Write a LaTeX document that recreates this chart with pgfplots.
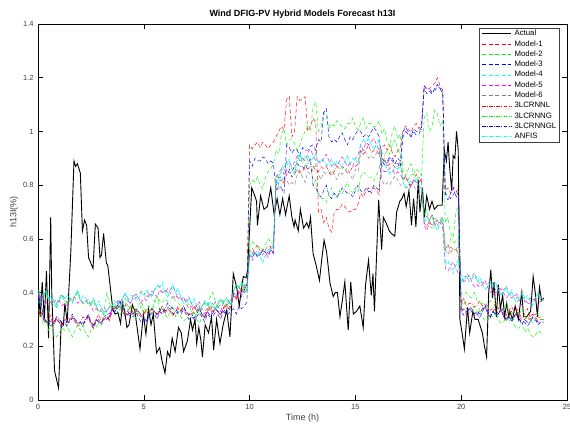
\documentclass[border=0pt]{standalone}
\usepackage{pgfplots}
\pgfplotsset{compat=1.18}
\usepackage{pgfplotstable}
\usepackage{fontspec}
\setmainfont{Liberation Sans}

\definecolor{mred}{rgb}{1,0,0}
\definecolor{mgreen}{rgb}{0,1,0}
\definecolor{mblue}{rgb}{0,0,1}
\definecolor{mcyan}{rgb}{0,1,1}
\definecolor{mmag}{rgb}{1,0,1}
\definecolor{mgray}{rgb}{0.5,0.5,0.5}

\pgfplotstableread{
t v
0.0 0.45
0.1 0.31
0.2 0.44
0.3 0.30
0.4 0.48
0.5 0.23
0.6 0.68
0.65 0.40
0.78 0.11
0.97 0.045
1.1 0.29
1.2 0.28
1.27 0.36
1.38 0.29
1.55 0.55
1.70 0.89
1.78 0.87
1.86 0.88
2.0 0.845
2.1 0.63
2.2 0.67
2.3 0.65
2.39 0.53
2.6 0.49
2.71 0.655
2.84 0.64
2.93 0.53
3.0 0.54
3.1 0.62
3.23 0.51
3.3 0.50
3.54 0.335
3.65 0.32
3.78 0.325
3.9 0.285
4.0 0.36
4.1 0.33
4.2 0.27
4.3 0.28
4.46 0.355
4.58 0.33
4.82 0.19
4.98 0.32
5.1 0.245
5.22 0.34
5.34 0.28
5.45 0.32
5.6 0.175
5.75 0.195
5.85 0.15
6.0 0.10
6.12 0.18
6.23 0.16
6.34 0.23
6.48 0.18
6.64 0.27
6.77 0.25
6.88 0.18
7.06 0.22
7.21 0.30
7.3 0.26
7.42 0.30
7.5 0.21
7.6 0.27
7.7 0.22
7.77 0.16
7.9 0.28
8.06 0.25
8.2 0.31
8.3 0.186
8.44 0.30
8.6 0.21
8.75 0.28
8.92 0.335
9.07 0.235
9.23 0.47
9.39 0.42
9.51 0.35
9.7 0.46
9.83 0.455
9.9 0.48
10.1 0.79
10.2 0.77
10.33 0.74
10.37 0.65
10.52 0.76
10.68 0.71
10.84 0.72
11.0 0.79
11.16 0.69
11.3 0.75
11.43 0.69
11.56 0.75
11.7 0.69
11.87 0.76
12.0 0.68
12.1 0.645
12.15 0.67
12.3 0.63
12.4 0.71
12.55 0.64
12.7 0.66
12.8 0.64
12.88 0.68
13.0 0.545
13.15 0.50
13.3 0.445
13.42 0.53
13.52 0.595
13.64 0.55
13.8 0.435
13.95 0.385
14.05 0.40
14.15 0.40
14.27 0.31
14.38 0.37
14.5 0.44
14.66 0.26
14.78 0.44
14.9 0.32
15.05 0.33
15.21 0.35
15.37 0.27
15.48 0.43
15.62 0.52
15.75 0.39
15.83 0.47
15.9 0.33
16.1 0.745
16.24 0.56
16.32 0.68
16.45 0.66
16.6 0.63
16.7 0.62
16.86 0.61
16.95 0.70
17.1 0.74
17.2 0.75
17.3 0.77
17.4 0.72
17.53 0.78
17.65 0.65
17.75 0.75
17.86 0.645
17.97 0.82
18.05 0.70
18.17 0.79
18.26 0.68
18.37 0.76
18.5 0.71
18.62 0.74
18.73 0.71
18.9 0.725
19.1 0.725
19.2 0.93
19.3 0.89
19.38 0.96
19.45 0.87
19.55 0.78
19.62 0.91
19.7 0.90
19.78 1.0
19.86 0.93
19.94 0.30
20.07 0.235
20.15 0.19
20.3 0.345
20.4 0.25
20.55 0.33
20.65 0.30
20.8 0.30
21.0 0.25
21.1 0.20
21.2 0.16
21.3 0.40
21.4 0.485
21.48 0.38
21.55 0.44
21.66 0.31
21.75 0.43
21.85 0.34
21.96 0.39
22.05 0.31
22.15 0.36
22.25 0.31
22.3 0.33
22.42 0.30
22.55 0.35
22.7 0.30
22.86 0.40
22.95 0.31
23.1 0.31
23.28 0.33
23.4 0.46
23.5 0.40
23.6 0.31
23.7 0.42
23.8 0.37
23.9 0.38
}\actual

\pgfplotstableread{
t M1 M2 M3 M4 M5 M6 L G GL AN
0.0 0.31 0.34 0.36 0.40 0.38 0.39 0.33 0.37 0.37 0.41
0.125 0.33 0.325 0.375 0.38 0.395 0.38 0.34 0.355 0.39 0.395
0.25 0.30 0.28 0.31 0.39 0.38 0.39 0.31 0.38 0.30 0.39
0.375 0.285 0.30 0.29 0.405 0.36 0.405 0.295 0.40 0.29 0.41
0.5 0.29 0.26 0.30 0.37 0.37 0.38 0.30 0.37 0.29 0.38
0.625 0.30 0.28 0.29 0.39 0.36 0.36 0.32 0.36 0.275 0.39
0.75 0.28 0.25 0.29 0.36 0.36 0.37 0.29 0.36 0.29 0.37
0.875 0.30 0.235 0.305 0.34 0.375 0.36 0.30 0.345 0.31 0.355
1.0 0.29 0.25 0.29 0.37 0.37 0.38 0.30 0.37 0.30 0.37
1.125 0.275 0.27 0.27 0.385 0.35 0.395 0.285 0.39 0.29 0.39
1.25 0.28 0.26 0.30 0.37 0.36 0.38 0.29 0.37 0.29 0.38
1.375 0.29 0.28 0.29 0.39 0.35 0.36 0.31 0.36 0.275 0.39
1.5 0.29 0.25 0.29 0.38 0.37 0.38 0.30 0.38 0.30 0.38
1.625 0.31 0.235 0.305 0.36 0.385 0.37 0.31 0.365 0.32 0.365
1.75 0.29 0.26 0.30 0.39 0.38 0.39 0.30 0.38 0.30 0.39
1.875 0.275 0.28 0.28 0.405 0.36 0.405 0.285 0.40 0.29 0.41
2.0 0.28 0.26 0.29 0.37 0.37 0.38 0.29 0.37 0.29 0.37
2.125 0.29 0.28 0.28 0.39 0.36 0.36 0.31 0.36 0.275 0.38
2.25 0.29 0.25 0.30 0.38 0.36 0.37 0.30 0.37 0.30 0.38
2.375 0.31 0.235 0.315 0.36 0.375 0.36 0.31 0.355 0.32 0.365
2.5 0.28 0.26 0.29 0.36 0.35 0.36 0.29 0.35 0.29 0.36
2.625 0.265 0.28 0.27 0.375 0.33 0.375 0.275 0.37 0.28 0.38
2.75 0.29 0.27 0.30 0.35 0.34 0.35 0.30 0.34 0.30 0.35
2.875 0.30 0.29 0.29 0.37 0.33 0.33 0.32 0.33 0.285 0.36
3.0 0.28 0.28 0.29 0.34 0.33 0.34 0.29 0.33 0.29 0.34
3.125 0.30 0.33 0.305 0.32 0.345 0.33 0.30 0.315 0.31 0.325
3.25 0.31 0.40 0.30 0.33 0.33 0.33 0.31 0.33 0.32 0.33
3.375 0.295 0.36 0.31 0.345 0.32 0.345 0.30 0.35 0.31 0.35
3.5 0.33 0.34 0.34 0.35 0.35 0.35 0.33 0.35 0.34 0.35
3.625 0.34 0.36 0.33 0.37 0.34 0.33 0.35 0.34 0.325 0.36
3.75 0.34 0.33 0.35 0.36 0.36 0.37 0.34 0.35 0.35 0.36
3.875 0.36 0.315 0.365 0.34 0.375 0.36 0.35 0.335 0.37 0.345
4.0 0.33 0.34 0.33 0.38 0.37 0.38 0.33 0.36 0.34 0.38
4.125 0.315 0.36 0.31 0.395 0.35 0.395 0.315 0.38 0.33 0.40
4.25 0.32 0.33 0.32 0.37 0.37 0.38 0.33 0.35 0.33 0.37
4.375 0.33 0.35 0.31 0.39 0.36 0.36 0.35 0.34 0.315 0.38
4.5 0.32 0.32 0.31 0.39 0.38 0.39 0.32 0.34 0.32 0.39
4.625 0.34 0.305 0.325 0.37 0.395 0.38 0.33 0.325 0.34 0.375
4.75 0.33 0.33 0.31 0.38 0.38 0.39 0.33 0.35 0.32 0.38
4.875 0.315 0.35 0.29 0.395 0.36 0.405 0.315 0.37 0.31 0.40
5.0 0.32 0.32 0.30 0.39 0.38 0.40 0.32 0.34 0.31 0.39
5.125 0.33 0.34 0.29 0.41 0.37 0.38 0.34 0.33 0.295 0.40
5.25 0.32 0.33 0.31 0.40 0.39 0.40 0.33 0.35 0.32 0.40
5.375 0.34 0.315 0.325 0.38 0.405 0.39 0.34 0.335 0.34 0.385
5.5 0.33 0.37 0.32 0.41 0.40 0.41 0.33 0.36 0.33 0.41
5.625 0.315 0.39 0.30 0.425 0.38 0.425 0.315 0.38 0.32 0.43
5.75 0.33 0.33 0.33 0.42 0.41 0.42 0.33 0.37 0.34 0.42
5.875 0.34 0.35 0.32 0.44 0.40 0.40 0.35 0.36 0.325 0.43
6.0 0.32 0.32 0.33 0.40 0.40 0.41 0.33 0.38 0.34 0.40
6.125 0.34 0.305 0.345 0.38 0.415 0.40 0.34 0.365 0.36 0.385
6.25 0.33 0.33 0.34 0.41 0.40 0.41 0.33 0.37 0.35 0.41
6.375 0.315 0.35 0.32 0.425 0.38 0.425 0.315 0.39 0.34 0.43
6.5 0.33 0.31 0.33 0.40 0.39 0.40 0.33 0.37 0.34 0.40
6.625 0.34 0.33 0.32 0.42 0.38 0.38 0.35 0.36 0.325 0.41
6.75 0.33 0.31 0.32 0.38 0.37 0.38 0.33 0.35 0.33 0.38
6.875 0.35 0.295 0.335 0.36 0.385 0.37 0.34 0.335 0.35 0.365
7.0 0.33 0.30 0.32 0.36 0.36 0.37 0.33 0.34 0.33 0.36
7.125 0.315 0.32 0.30 0.375 0.34 0.385 0.315 0.36 0.32 0.38
7.25 0.32 0.31 0.31 0.36 0.35 0.36 0.33 0.33 0.32 0.36
7.375 0.33 0.33 0.30 0.38 0.34 0.34 0.35 0.32 0.305 0.37
7.5 0.33 0.30 0.31 0.35 0.35 0.36 0.33 0.33 0.32 0.35
7.625 0.35 0.285 0.325 0.33 0.365 0.35 0.34 0.315 0.34 0.335
7.75 0.32 0.31 0.31 0.35 0.34 0.35 0.32 0.34 0.32 0.35
7.875 0.305 0.33 0.29 0.365 0.32 0.365 0.305 0.36 0.31 0.37
8.0 0.33 0.34 0.32 0.35 0.34 0.36 0.33 0.35 0.33 0.35
8.125 0.34 0.38 0.31 0.37 0.33 0.34 0.35 0.34 0.315 0.36
8.25 0.32 0.40 0.31 0.35 0.35 0.35 0.33 0.36 0.32 0.35
8.375 0.34 0.37 0.325 0.33 0.365 0.34 0.34 0.345 0.34 0.335
8.5 0.33 0.34 0.32 0.36 0.35 0.36 0.33 0.35 0.33 0.36
8.625 0.315 0.36 0.30 0.375 0.33 0.375 0.315 0.37 0.32 0.38
8.75 0.34 0.36 0.33 0.36 0.36 0.37 0.34 0.36 0.34 0.36
8.875 0.35 0.38 0.32 0.38 0.35 0.35 0.36 0.35 0.325 0.37
9.0 0.34 0.37 0.32 0.37 0.36 0.37 0.34 0.37 0.33 0.37
9.125 0.36 0.355 0.335 0.35 0.375 0.36 0.35 0.355 0.35 0.355
9.25 0.39 0.41 0.34 0.41 0.40 0.41 0.39 0.41 0.40 0.41
9.375 0.375 0.43 0.32 0.425 0.38 0.425 0.375 0.43 0.39 0.43
9.5 0.40 0.42 0.35 0.42 0.41 0.42 0.40 0.42 0.40 0.42
9.625 0.41 0.44 0.34 0.44 0.40 0.40 0.42 0.41 0.385 0.43
9.75 0.41 0.42 0.35 0.42 0.42 0.43 0.40 0.42 0.41 0.42
9.875 0.43 0.405 0.365 0.40 0.435 0.42 0.41 0.405 0.43 0.405
10.0 0.95 0.80 0.89 0.53 0.54 0.55 0.56 0.57 0.54 0.53
10.125 0.935 0.82 0.87 0.545 0.52 0.565 0.545 0.59 0.53 0.55
10.25 0.95 0.81 0.90 0.54 0.55 0.55 0.56 0.58 0.55 0.54
10.375 0.96 0.83 0.89 0.56 0.54 0.53 0.58 0.57 0.535 0.55
10.5 0.94 0.80 0.89 0.53 0.54 0.55 0.55 0.57 0.54 0.53
10.625 0.96 0.785 0.905 0.51 0.555 0.54 0.56 0.555 0.56 0.515
10.75 0.95 0.83 0.90 0.54 0.55 0.56 0.56 0.58 0.55 0.54
10.875 0.935 0.85 0.88 0.555 0.53 0.575 0.545 0.60 0.54 0.56
11.0 0.95 0.86 0.89 0.56 0.56 0.57 0.57 0.59 0.56 0.56
11.125 0.96 0.88 0.88 0.58 0.55 0.55 0.59 0.58 0.545 0.57
11.25 0.98 0.93 0.78 0.82 0.83 0.79 0.80 0.84 0.81 0.82
11.375 1.00 0.915 0.795 0.80 0.845 0.78 0.81 0.825 0.83 0.805
11.5 1.02 0.99 0.79 0.85 0.86 0.80 0.82 0.86 0.83 0.85
11.625 1.005 1.01 0.77 0.865 0.84 0.815 0.805 0.88 0.82 0.87
11.75 1.12 0.95 0.95 0.88 0.89 0.82 0.84 0.88 0.86 0.88
11.875 1.13 0.97 0.94 0.90 0.88 0.80 0.86 0.87 0.845 0.89
12.0 0.98 0.97 0.92 0.86 0.87 0.81 0.83 0.86 0.85 0.86
12.125 1.00 0.955 0.935 0.84 0.885 0.80 0.84 0.845 0.87 0.845
12.25 1.13 0.93 0.93 0.90 0.91 0.84 0.86 0.89 0.88 0.90
12.375 1.115 0.95 0.91 0.915 0.89 0.855 0.845 0.91 0.87 0.92
12.5 1.12 0.98 0.94 0.89 0.90 0.83 0.85 0.88 0.87 0.89
12.625 1.13 1.00 0.93 0.91 0.89 0.81 0.87 0.87 0.855 0.90
12.75 1.00 1.02 0.93 0.91 0.92 0.85 0.86 0.90 0.88 0.91
12.875 1.02 1.005 0.945 0.89 0.935 0.84 0.87 0.885 0.90 0.895
13.0 1.05 1.09 0.95 0.90 0.91 0.86 0.87 0.80 0.80 0.90
13.125 1.035 1.11 0.93 0.915 0.89 0.875 0.855 0.82 0.79 0.92
13.25 0.70 1.00 0.97 0.88 0.89 0.84 0.85 0.76 0.77 0.88
13.375 0.71 1.02 0.96 0.90 0.88 0.82 0.87 0.75 0.755 0.89
13.5 0.66 1.07 1.07 0.89 0.90 0.85 0.86 0.75 0.78 0.89
13.625 0.68 1.055 1.085 0.87 0.915 0.84 0.87 0.735 0.80 0.875
13.75 0.64 1.01 0.98 0.88 0.89 0.84 0.85 0.77 0.76 0.88
13.875 0.625 1.03 0.96 0.895 0.87 0.855 0.835 0.79 0.75 0.90
14.0 0.70 1.02 0.97 0.87 0.88 0.84 0.85 0.76 0.77 0.87
14.125 0.71 1.04 0.96 0.89 0.87 0.82 0.87 0.75 0.755 0.88
14.25 0.71 1.03 0.98 0.88 0.89 0.85 0.86 0.78 0.77 0.88
14.375 0.73 1.015 0.995 0.86 0.905 0.84 0.87 0.765 0.79 0.865
14.5 0.72 1.01 0.97 0.89 0.89 0.85 0.86 0.79 0.78 0.89
14.625 0.705 1.03 0.95 0.905 0.87 0.865 0.845 0.81 0.77 0.91
14.75 0.70 1.03 0.98 0.88 0.88 0.84 0.85 0.78 0.77 0.88
14.875 0.71 1.05 0.97 0.90 0.87 0.82 0.87 0.77 0.755 0.89
15.0 0.71 1.02 0.99 0.90 0.90 0.86 0.87 0.79 0.78 0.90
15.125 0.73 1.005 1.005 0.88 0.915 0.85 0.88 0.775 0.80 0.885
15.25 0.77 1.03 1.00 0.95 0.95 0.92 0.93 0.83 0.78 0.95
15.375 0.755 1.05 0.98 0.965 0.93 0.935 0.915 0.85 0.77 0.97
15.5 0.78 1.01 0.99 0.96 0.96 0.92 0.93 0.84 0.79 0.96
15.625 0.79 1.03 0.98 0.98 0.95 0.90 0.95 0.83 0.775 0.97
15.75 0.77 1.03 1.00 0.95 0.96 0.91 0.92 0.83 0.78 0.95
15.875 0.79 1.015 1.015 0.93 0.975 0.90 0.93 0.815 0.80 0.935
16.0 0.78 1.02 1.00 0.95 0.95 0.92 0.93 0.84 0.79 0.95
16.125 0.765 1.04 0.98 0.965 0.93 0.935 0.915 0.86 0.78 0.97
16.25 0.94 0.99 0.90 0.87 0.86 0.82 0.88 0.92 0.89 0.87
16.375 0.95 1.01 0.89 0.89 0.85 0.80 0.90 0.91 0.875 0.88
16.5 0.93 0.96 0.89 0.86 0.85 0.81 0.87 0.93 0.88 0.86
16.625 0.95 0.945 0.905 0.84 0.865 0.80 0.88 0.915 0.90 0.845
16.75 0.92 1.00 0.90 0.85 0.86 0.82 0.88 0.95 0.89 0.85
16.875 0.905 1.02 0.88 0.865 0.84 0.835 0.865 0.97 0.88 0.87
17.0 0.93 0.97 0.90 0.86 0.85 0.82 0.87 0.93 0.88 0.86
17.125 0.94 0.99 0.89 0.88 0.84 0.80 0.89 0.92 0.865 0.87
17.25 1.00 0.85 1.00 0.81 0.82 0.80 0.82 0.83 0.98 0.81
17.375 1.02 0.835 1.015 0.79 0.835 0.79 0.83 0.815 1.00 0.795
17.5 1.01 0.86 1.00 0.80 0.81 0.79 0.81 0.82 0.99 0.80
17.625 0.995 0.88 0.98 0.815 0.79 0.805 0.795 0.84 0.98 0.82
17.75 1.02 0.84 1.01 0.81 0.82 0.80 0.82 0.84 1.00 0.81
17.875 1.03 0.86 1.00 0.83 0.81 0.78 0.84 0.83 0.985 0.82
18.0 1.01 0.85 1.00 0.80 0.81 0.79 0.81 0.83 0.99 0.80
18.125 1.03 0.835 1.015 0.78 0.825 0.78 0.82 0.815 1.01 0.785
18.25 1.17 1.05 1.16 0.66 0.65 0.67 0.66 0.69 1.17 0.66
18.375 1.155 1.07 1.14 0.675 0.63 0.685 0.645 0.71 1.16 0.68
18.5 1.16 1.00 1.15 0.67 0.66 0.67 0.67 0.65 1.16 0.67
18.625 1.17 1.02 1.14 0.69 0.65 0.65 0.69 0.64 1.145 0.68
18.75 1.18 1.08 1.16 0.65 0.65 0.66 0.66 0.68 1.15 0.65
18.875 1.20 1.065 1.175 0.63 0.665 0.65 0.67 0.665 1.17 0.635
19.0 1.17 1.02 1.16 0.66 0.66 0.67 0.67 0.66 1.16 0.66
19.125 1.155 1.04 1.14 0.675 0.64 0.685 0.655 0.68 1.15 0.68
19.25 0.78 0.66 0.77 0.50 0.49 0.56 0.56 0.58 0.76 0.51
19.375 0.79 0.68 0.76 0.52 0.48 0.54 0.58 0.57 0.745 0.52
19.5 0.77 0.62 0.75 0.49 0.50 0.57 0.55 0.60 0.77 0.50
19.625 0.79 0.605 0.765 0.47 0.515 0.56 0.56 0.585 0.79 0.485
19.75 0.79 0.70 0.78 0.51 0.49 0.56 0.56 0.59 0.76 0.50
19.875 0.775 0.72 0.76 0.525 0.47 0.575 0.545 0.61 0.75 0.52
20.0 0.33 0.35 0.34 0.44 0.45 0.46 0.36 0.40 0.33 0.44
20.125 0.34 0.37 0.33 0.46 0.44 0.44 0.38 0.39 0.315 0.45
20.25 0.32 0.34 0.33 0.46 0.45 0.47 0.35 0.40 0.32 0.46
20.375 0.34 0.325 0.345 0.44 0.465 0.46 0.36 0.385 0.34 0.445
20.5 0.33 0.33 0.34 0.45 0.44 0.46 0.36 0.38 0.33 0.45
20.625 0.315 0.35 0.32 0.465 0.42 0.475 0.345 0.40 0.32 0.47
20.75 0.32 0.32 0.33 0.44 0.43 0.45 0.35 0.37 0.32 0.44
20.875 0.33 0.34 0.32 0.46 0.42 0.43 0.37 0.36 0.305 0.45
21.0 0.33 0.31 0.34 0.43 0.43 0.44 0.35 0.36 0.33 0.43
21.125 0.35 0.295 0.355 0.41 0.445 0.43 0.36 0.345 0.35 0.415
21.25 0.32 0.30 0.33 0.42 0.42 0.43 0.35 0.35 0.32 0.42
21.375 0.305 0.32 0.31 0.435 0.40 0.445 0.335 0.37 0.31 0.44
21.5 0.33 0.31 0.33 0.42 0.41 0.43 0.34 0.36 0.33 0.42
21.625 0.34 0.33 0.32 0.44 0.40 0.41 0.36 0.35 0.315 0.43
21.75 0.32 0.30 0.32 0.41 0.40 0.42 0.34 0.35 0.32 0.41
21.875 0.34 0.285 0.335 0.39 0.415 0.41 0.35 0.335 0.34 0.395
22.0 0.31 0.29 0.32 0.40 0.40 0.41 0.33 0.34 0.31 0.40
22.125 0.295 0.31 0.30 0.415 0.38 0.425 0.315 0.36 0.30 0.42
22.25 0.32 0.29 0.31 0.39 0.39 0.40 0.33 0.33 0.31 0.39
22.375 0.33 0.31 0.30 0.41 0.38 0.38 0.35 0.32 0.295 0.40
22.5 0.31 0.28 0.31 0.38 0.38 0.39 0.33 0.33 0.30 0.38
22.625 0.33 0.265 0.325 0.36 0.395 0.38 0.34 0.315 0.32 0.365
22.75 0.31 0.27 0.30 0.38 0.37 0.39 0.32 0.32 0.30 0.38
22.875 0.295 0.29 0.28 0.395 0.35 0.405 0.305 0.34 0.29 0.40
23.0 0.30 0.25 0.30 0.37 0.37 0.38 0.32 0.31 0.29 0.37
23.125 0.31 0.27 0.29 0.39 0.36 0.36 0.34 0.30 0.275 0.38
23.25 0.30 0.25 0.29 0.37 0.36 0.38 0.31 0.30 0.29 0.37
23.375 0.32 0.235 0.305 0.35 0.375 0.37 0.32 0.285 0.31 0.355
23.5 0.31 0.24 0.30 0.38 0.37 0.38 0.32 0.30 0.30 0.38
23.625 0.295 0.26 0.28 0.395 0.35 0.395 0.305 0.32 0.29 0.40
23.75 0.30 0.25 0.29 0.37 0.37 0.38 0.31 0.30 0.29 0.37
23.9 0.30 0.25 0.29 0.37 0.36 0.37 0.31 0.30 0.29 0.37
}\models

\tikzset{
  mdash/.style={dash pattern=on 4pt off 2.5pt, line width=0.45pt},
  mdashdot/.style={dash pattern=on 3.5pt off 1.5pt on 0.6pt off 1.5pt, line width=0.45pt},
}

\begin{document}
\begin{tikzpicture}
\begin{axis}[
  name=ax,
  width=529pt, height=376pt, scale only axis,
  xmin=0, xmax=25, ymin=0, ymax=1.4,
  xtick={0,5,10,15,20,25},
  ytick={0,0.2,0.4,0.6,0.8,1,1.2,1.4},
  tick align=inside,
  major tick length=5pt,
  axis line style={line width=0.6pt},
  every tick/.style={line width=0.5pt, black},
  /pgf/number format/assume math mode=true,
  tick label style={font=\fontsize{7.5}{9}\selectfont, text=black!75},
  xticklabel style={yshift=-1pt},
  yticklabel style={xshift=-1pt},
  title={Wind DFIG-PV Hybrid Models Forecast h13I},
  title style={font=\bfseries\fontsize{9}{10}\selectfont, yshift=-4pt},
  xlabel={Time (h)},
  ylabel={h13I(\%)},
  xlabel style={font=\fontsize{9}{10}\selectfont, text=black!75, yshift=3pt},
  ylabel style={font=\fontsize{9}{10}\selectfont, text=black!75, yshift=-2pt},
  legend style={at={(1,1)}, anchor=north east, xshift=-7pt, yshift=-4pt,
    font=\fontsize{7.8}{8}\selectfont, draw=black!75, line width=0.6pt,
    inner xsep=2.5pt, inner ysep=1pt, row sep=1.3pt, column sep=2pt,
    cells={anchor=west},
    nodes={inner sep=1pt, text height=5.5pt, text depth=1.5pt}},
  legend image code/.code={\draw[#1, line width=0.6pt] (0pt,0pt) -- (29pt,0pt);},
]
\addplot[black, line width=0.9pt] table[x=t,y=v]{\actual};
\addlegendentry{Actual}
\addplot[draw=mred, mdash] table[x=t,y=M1]{\models};
\addlegendentry{Model-1}
\addplot[draw=mgreen, mdash] table[x=t,y=M2]{\models};
\addlegendentry{Model-2}
\addplot[draw=mblue, mdash] table[x=t,y=M3]{\models};
\addlegendentry{Model-3}
\addplot[draw=mcyan, mdash] table[x=t,y=M4]{\models};
\addlegendentry{Model-4}
\addplot[draw=mmag, mdash] table[x=t,y=M5]{\models};
\addlegendentry{Model-5}
\addplot[draw=mgray, mdash] table[x=t,y=M6]{\models};
\addlegendentry{Model-6}
\addplot[draw=mred, mdashdot] table[x=t,y=L]{\models};
\addlegendentry{3LCRNNL}
\addplot[draw=mgreen, mdashdot] table[x=t,y=G]{\models};
\addlegendentry{3LCRNNG}
\addplot[draw=mblue, mdashdot] table[x=t,y=GL]{\models};
\addlegendentry{3LCRNNGL}
\addplot[draw=mcyan, mdashdot] table[x=t,y=AN]{\models};
\addlegendentry{ANFIS}
\end{axis}
\pgfresetboundingbox
\path ([shift={(-38pt,-28pt)}]ax.south west) rectangle ([shift={(3pt,24pt)}]ax.north east);
\end{tikzpicture}
\end{document}
